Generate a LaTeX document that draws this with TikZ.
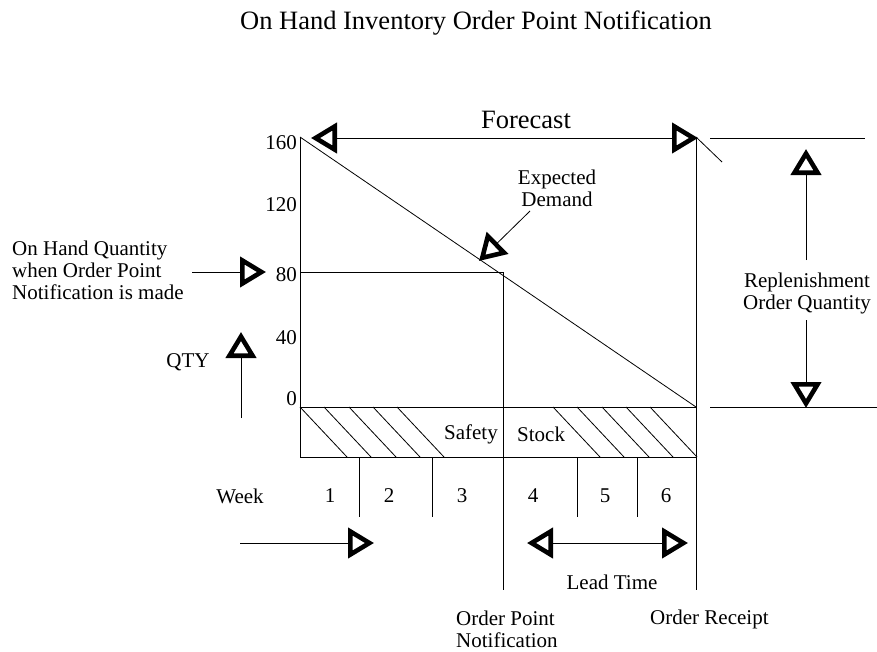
\documentclass[tikz,border=0pt]{standalone}
\usepackage{fontspec}
\setmainfont{Liberation Serif}
\usetikzlibrary{arrows.meta,positioning}

\tikzset{
  lbl/.style={font=\fontsize{21}{22}\selectfont, inner sep=0pt},
  big/.style={font=\fontsize{26.5}{28}\selectfont, inner sep=0pt},
  thin line/.style={line width=0.8pt},
  >={Triangle[open,length=26pt,width=30pt,line width=4.6pt]}
}

\begin{document}
\begin{tikzpicture}[x=1pt,y=-1pt]
  \useasboundingbox (0,0) rectangle (877,651);

  % chart frame
  \coordinate (tl) at (300,137);
  \coordinate (tr) at (696,137);
  \coordinate (zl) at (300,407);
  \coordinate (zr) at (696,407);
  \coordinate (bl) at (300,457);
  \coordinate (br) at (696,457);
  \coordinate (rcpt) at (696,590);
  \coordinate (opl) at (300,272);
  \coordinate (opc) at (503,272);
  \coordinate (opn) at (503,590);

  \node[big] (title) at (476,23) {On Hand Inventory Order Point Notification};
  \node[big] (fcst) at (526,120) {Forecast};

  \draw[thin line] (tl) -- (bl) -- (br);
  \draw[thin line] (zl) -- (zr);
  \draw[thin line] (tr) -- (rcpt);
  \draw[thin line] (tl) -- (zr);
  \draw[thin line] (opl) -- (opc) -- (opn);
  \draw[thin line] (tr) -- (722,162);
  \draw[thin line,<->] (311,138) -- (698,138);

  % safety stock hatching
  \foreach \x in {300,324,349,373,397,553,577,602,626,650}
    \draw[thin line] (\x,407) -- (\x+47,457);
  \node[lbl,anchor=east] (safety) at (498,434) {Safety};
  \node[lbl,anchor=west] (stock) at (517,434) {Stock};

  % y axis
  \node[lbl,anchor=east] (y160) at (297,143) {160};
  \node[lbl,anchor=east] (y120) at (297,205) {120};
  \node[lbl,anchor=east] (y80) at (297,275) {80};
  \node[lbl,anchor=east] (y40) at (297,338) {40};
  \node[lbl,anchor=east] (y0) at (297,399) {0};

  \node[lbl,anchor=west,align=left] (onhand) at (12,270)
    {On Hand Quantity\\when Order Point\\Notification is made};
  \coordinate (onhandA) at (192,272);
  \draw[thin line,->] (onhandA) -- (266,272);

  \node[lbl] (qty) at (188,362) {QTY};
  \coordinate (qtyA) at (241,418);
  \draw[thin line,->] (qtyA) -- (241,332);

  \node[lbl,align=center] (expd) at (557,188) {Expected\\Demand};
  \draw[thin line,->] (530,211) -- (479,261);

  % replenishment quantity
  \coordinate (rqt) at (710,138);
  \coordinate (rqb) at (710,407);
  \draw[thin line] (rqt) -- (865,138);
  \draw[thin line] (rqb) -- (877,407);
  \node[lbl,align=center] (repl) at (807,293) {Replenishment\\Order Quantity};
  \draw[thin line,->] (806,260) -- (806,149);
  \draw[thin line,->] (806,320) -- (806,408);

  % weeks
  \foreach \x in {359,432,577,637}
    \draw[thin line] (\x,457) -- (\x,517);
  \node[lbl] (week) at (240,496) {Week};
  \foreach \n/\x in {1/330,2/389,3/462,4/533,5/605,6/666}
    \node[lbl] (w\n) at (\x,496) {\n};

  \coordinate (wkA) at (240,543);
  \draw[thin line,->] (wkA) -- (374,543);
  \draw[thin line,<->] (527,543) -- (688,543);
  \node[lbl] (lead) at (612,582) {Lead Time};

  \node[lbl,anchor=west,align=left] (opnote) at (456,629) {Order Point\\Notification};
  \node[lbl,anchor=west] (orcpt) at (650,619) {Order Receipt};
\end{tikzpicture}
\end{document}
